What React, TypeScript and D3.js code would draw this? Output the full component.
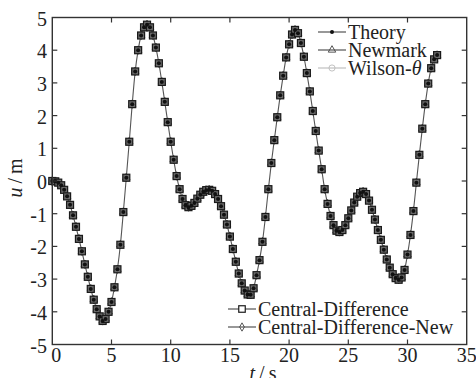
import { useEffect, useRef } from 'react';
import * as d3 from 'd3';

// sampling step of the response curves (s)
const timeStep = 0.25;

// displacement u (m), every 0.25 s from t = 0 to 32.5
const displacement = [
  0, -0.01, -0.05, -0.13, -0.27, -0.47, -0.73, -1.05, -1.4, -1.77,
  -2.15, -2.55, -2.93, -3.3, -3.63, -3.92, -4.14, -4.28, -4.22, -4.0,
  -3.7, -3.25, -2.7, -1.95, -0.95, 0.1, 1.2, 2.35, 3.35, 4.0,
  4.45, 4.7, 4.78, 4.7, 4.45, 4.08, 3.6, 3.03, 2.42, 1.8,
  1.2, 0.65, 0.15, -0.25, -0.55, -0.74, -0.8, -0.76, -0.67, -0.54,
  -0.42, -0.33, -0.28, -0.27, -0.3, -0.4, -0.55, -0.77, -1.03, -1.33,
  -1.7, -2.08, -2.47, -2.83, -3.13, -3.35, -3.47, -3.48, -3.28, -2.88,
  -2.42, -1.86, -1.1, -0.25, 0.55, 1.25, 1.95, 2.62, 3.22, 3.78,
  4.18, 4.48, 4.62, 4.52, 4.22, 3.8, 3.3, 2.74, 2.14, 1.53,
  0.93, 0.36, -0.25, -0.7, -1.07, -1.35, -1.52, -1.56, -1.5, -1.35,
  -1.14, -0.9, -0.66, -0.48, -0.37, -0.33, -0.4, -0.6, -0.88, -1.18,
  -1.5, -1.8, -2.1, -2.4, -2.65, -2.85, -2.97, -3.02, -2.95, -2.72,
  -2.25, -1.65, -0.92, -0.05, 0.8, 1.6, 2.35, 2.98, 3.45, 3.72,
  3.85,
];

const seriesNames = ['Theory', 'Newmark', 'Wilson-θ', 'Central-Difference', 'Central-Difference-New'];

const xTicks = [0, 5, 10, 15, 20, 25, 30, 35];
const yTicks = [-5, -4, -3, -2, -1, 0, 1, 2, 3, 4, 5];

const W = 476;
const H = 378;
const FONT = 'Liberation Serif, Times New Roman, DejaVu Serif, serif';

const App = () => {
  const svgRef = useRef<SVGSVGElement>(null);

  useEffect(() => {
    const svg = d3.select(svgRef.current);
    svg.selectAll('*').remove();

    const x = d3.scaleLinear().domain([0, 35]).range([52.3, 466.7]);
    const y = d3.scaleLinear().domain([-5, 5]).range([344.5, 17.5]);

    const pts = displacement.map((u, i) => ({ t: i * timeStep, u }));

    // marker shapes
    const tri = d3.symbol().type(d3.symbolTriangle).size(24);
    const dia = d3.symbol().type(d3.symbolDiamond).size(20);
    const circ = d3.symbol().type(d3.symbolCircle).size(30);

    const drawMarker = (g, name, cx, cy, onCurve) => {
      const m = g.append('g').attr('transform', `translate(${cx},${cy})`);
      if (name === 'Theory') {
        m.append('circle').attr('r', 2).attr('fill', '#111');
      } else if (name === 'Newmark') {
        m.append('path').attr('d', tri()).attr('fill', 'none').attr('stroke', '#444').attr('stroke-width', 0.9);
      } else if (name === 'Wilson-θ') {
        m.append('path').attr('d', circ()).attr('fill', 'none').attr('stroke', '#bbb').attr('stroke-width', 0.9);
      } else if (name === 'Central-Difference') {
        const s = onCurve ? 7 : 6.5;
        m.append('rect').attr('x', -s / 2).attr('y', -s / 2).attr('width', s).attr('height', s)
          .attr('fill', onCurve ? '#6a6a6a' : '#fff').attr('stroke', '#1a1a1a').attr('stroke-width', 1.2);
      } else {
        m.append('path').attr('d', dia()).attr('fill', 'none').attr('stroke', '#444').attr('stroke-width', 0.9);
      }
    };

    // ==========================================
    // CURVES
    // ==========================================
    const line = d3.line<{ t: number; u: number }>()
      .x((d) => x(d.t))
      .y((d) => y(d.u))
      .curve(d3.curveMonotoneX);

    svg.append('path')
      .datum(pts)
      .attr('d', line)
      .attr('fill', 'none')
      .attr('stroke', '#555')
      .attr('stroke-width', 1.1);

    const markers = svg.append('g');
    ['Wilson-θ', 'Newmark', 'Central-Difference-New', 'Central-Difference', 'Theory'].forEach((name) => {
      pts.forEach((d) => drawMarker(markers, name, x(d.t), y(d.u), true));
    });

    // ==========================================
    // FRAME + TICKS
    // ==========================================
    const [x0, x1] = x.range();
    const [y0, y1] = y.range();
    svg.append('rect')
      .attr('x', x0).attr('y', y1)
      .attr('width', x1 - x0).attr('height', y0 - y1)
      .attr('fill', 'none').attr('stroke', '#333').attr('stroke-width', 1.4);

    const tickLen = 5;
    xTicks.slice(1, -1).forEach((v) => {
      svg.append('line').attr('x1', x(v)).attr('x2', x(v)).attr('y1', y0).attr('y2', y0 - tickLen).attr('stroke', '#333').attr('stroke-width', 1.2);
      svg.append('line').attr('x1', x(v)).attr('x2', x(v)).attr('y1', y1).attr('y2', y1 + tickLen).attr('stroke', '#333').attr('stroke-width', 1.2);
    });
    yTicks.slice(1, -1).forEach((v) => {
      svg.append('line').attr('x1', x0).attr('x2', x0 + tickLen).attr('y1', y(v)).attr('y2', y(v)).attr('stroke', '#333').attr('stroke-width', 1.2);
      svg.append('line').attr('x1', x1).attr('x2', x1 - tickLen).attr('y1', y(v)).attr('y2', y(v)).attr('stroke', '#333').attr('stroke-width', 1.2);
    });

    svg.selectAll('.xt')
      .data(xTicks)
      .enter()
      .append('text')
      .attr('x', (d) => (d === 0 ? x(d) + 4 : x(d)))
      .attr('y', 362)
      .attr('text-anchor', 'middle')
      .text((d) => d);

    svg.selectAll('.yt')
      .data(yTicks)
      .enter()
      .append('text')
      .attr('x', 47)
      .attr('y', (d) => y(d) + 8)
      .attr('text-anchor', 'end')
      .text((d) => d);

    // axis titles
    const yl = svg.append('text')
      .attr('transform', `translate(22,178) rotate(-90)`)
      .attr('text-anchor', 'middle');
    yl.append('tspan').attr('font-style', 'italic').text('u');
    yl.append('tspan').text('\u2009/\u2009m');

    const xl = svg.append('text')
      .attr('x', 263)
      .attr('y', 380)
      .attr('text-anchor', 'middle');
    xl.append('tspan').attr('font-style', 'italic').text('t');
    xl.append('tspan').text('\u2009/\u2009s');

    // ==========================================
    // LEGENDS
    // ==========================================
    const legendRow = (name, lx, ly) => {
      const col = name === 'Wilson-θ' ? '#bbb' : '#444';
      svg.append('line').attr('x1', lx).attr('x2', lx + 28).attr('y1', ly).attr('y2', ly)
        .attr('stroke', col).attr('stroke-width', 1.1);
      drawMarker(svg.append('g'), name, lx + 14, ly, false);
      const t = svg.append('text').attr('x', lx + 30).attr('y', ly + 7);
      if (name === 'Wilson-θ') {
        t.append('tspan').text('Wilson-');
        t.append('tspan').attr('font-style', 'italic').text('θ');
      } else {
        t.text(name);
      }
    };
    seriesNames.slice(0, 3).forEach((n, i) => legendRow(n, 318, 32 + i * 18));
    seriesNames.slice(3).forEach((n, i) => legendRow(n, 228, 309 + i * 18));

    svg.selectAll('text')
      .attr('font-family', FONT)
      .attr('font-size', 20)
      .attr('fill', '#222');
  }, []);

  return (
    <div style={{ position: 'absolute', left: 0, top: 0, width: W, height: H, background: '#fff' }}>
      <svg ref={svgRef} width={W} height={H} fontFamily={FONT} style={{ display: 'block' }}></svg>
    </div>
  );
};

export default App;
